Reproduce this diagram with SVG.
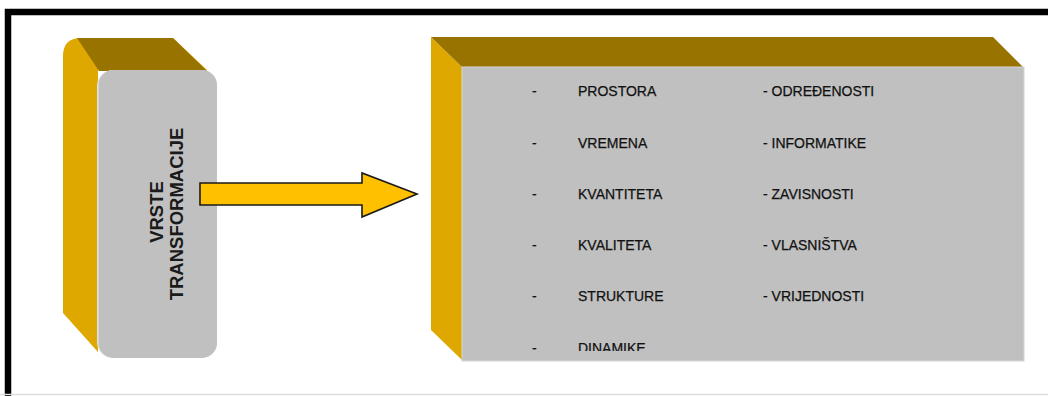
<svg xmlns="http://www.w3.org/2000/svg" width="1048" height="396" viewBox="0 0 1048 396">
<style>
.side{fill:#dfa800}
.top{fill:#987300}
.face{fill:#c0c0c0}
.lbl{font-family:"Liberation Sans",Arial,sans-serif;font-size:14px;fill:#111111;stroke:#111111;stroke-width:0.25}
.vt{font-family:"Liberation Sans",Arial,sans-serif;font-size:18.5px;font-weight:bold;fill:#1a1a1a;text-anchor:middle}
</style>
<defs>
<clipPath id="boxclip"><rect x="462" y="67" width="562" height="284"/></clipPath>
</defs>
<rect x="0" y="0" width="1048" height="396" fill="#ffffff"/>
<path d="M8 396 V12 H1048" fill="none" stroke="#000" stroke-width="6.5"/>
<line x1="0" y1="394.5" x2="1048" y2="394.5" stroke="#dddddd" stroke-width="1.5"/>
<g id="node-vrste">
<path class="side" d="M63 56 Q63 38 81 38 L173 38 L207 70 L98 70 L98 352 L63 313 Z"/>
<path class="top" d="M77 38 L173 38 L207 71 L99 71 Z"/>
<rect x="97" y="70" width="120" height="288" rx="16" ry="16" fill="#e2e2e2"/>
<rect x="98.5" y="70" width="118.5" height="288" rx="15" ry="15" class="face"/>
<text class="vt" transform="translate(163,212) rotate(-90)">VRSTE</text>
<text class="vt" transform="translate(183,214) rotate(-90)">TRANSFORMACIJE</text>
</g>
<g id="connectors">
<polygon points="200,183 362,183 362,173 417,194 362,217 362,205 200,205" fill="#ffc000" stroke="#1a1a1a" stroke-width="1.6" stroke-linejoin="miter"/>
</g>
<g id="node-list">
<polygon class="side" points="431,37 462,67 462,360 431,330"/>
<polygon class="top" points="431,37 993,37 1023,67 462,67"/>
<rect x="462" y="67" width="562" height="294" class="face" stroke="#d6d6d6" stroke-width="1"/>
<g clip-path="url(#boxclip)" class="lbl">
<text x="532" y="96">-</text><text x="578" y="96">PROSTORA</text>
<text x="532" y="148">-</text><text x="578" y="148">VREMENA</text>
<text x="532" y="199">-</text><text x="578" y="199">KVANTITETA</text>
<text x="532" y="250">-</text><text x="578" y="250">KVALITETA</text>
<text x="532" y="301">-</text><text x="578" y="301">STRUKTURE</text>
<text x="532" y="353">-</text><text x="578" y="353">DINAMIKE</text>
<text x="763" y="96">- ODREĐENOSTI</text>
<text x="763" y="148">- INFORMATIKE</text>
<text x="763" y="199">- ZAVISNOSTI</text>
<text x="763" y="250">- VLASNIŠTVA</text>
<text x="763" y="301">- VRIJEDNOSTI</text>
</g>
</g>
</svg>
